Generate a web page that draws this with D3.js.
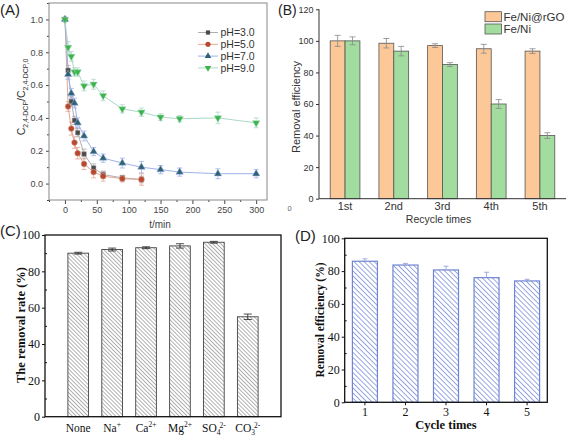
<!DOCTYPE html>
<html><head><meta charset="utf-8">
<script src="https://cdn.jsdelivr.net/npm/d3@7"></script>
<style>body{margin:0;background:#fff}svg{display:block}</style></head>
<body><svg id="c" width="567" height="436"></svg>
<script>
// ---------- Panel A data ----------
const timeA = [0,5,10,15,20,30,45,60,90,120,150,180,240,300];
const ph3 = [1.0,0.69,0.50,0.385,0.31,0.18,0.095,0.055,0.035,0.025];
const ph3Err = [0,0.03,0.03,0.025,0.025,0.03,0.025,0.02,0.015,0.02];
const ph5 = [1.0,0.47,0.335,0.25,0.185,0.12,0.07,0.045,0.03,0.025];
const ph5Err = [0,0.03,0.04,0.035,0.035,0.035,0.035,0.03,0.02,0.035];
const ph7 = [1.0,0.665,0.55,0.49,0.37,0.29,0.195,0.155,0.125,0.10,0.085,0.07,0.06,0.06];
const ph7Err = [0,0.03,0.03,0.03,0.03,0.03,0.025,0.025,0.03,0.035,0.025,0.025,0.03,0.025];
const ph9 = [1.0,0.83,0.775,0.68,0.68,0.595,0.605,0.535,0.455,0.435,0.405,0.395,0.40,0.37];
const ph9Err = [0,0.035,0.03,0.025,0.025,0.03,0.03,0.03,0.025,0.025,0.02,0.02,0.035,0.03];
const seriesA = ["pH=3.0","pH=5.0","pH=7.0","pH=9.0"];
const xTicksA = [0,50,100,150,200,250,300];
const yTicksA = [0,0.2,0.4,0.6,0.8,1.0];

// ---------- Panel B data ----------
const catsB = ["1st","2nd","3rd","4th","5th"];
const seriesB = ["Fe/Ni@rGO","Fe/Ni"];
const rgoB = [100,98.5,97,95,93.5];
const rgoErrB = [3.5,3,1.2,2.8,1.5];
const feniB = [100,93.5,85,60,40];
const feniErrB = [2.5,3,1.2,2.8,1.8];
const yTicksB = [0,20,40,60,80,100,120];

// ---------- Panel C data ----------
const catsC = ["None","Na","Ca","Mg","SO4","CO3"];
const valC = [90,92,93,94,96,55];
const errC = [0.5,0.8,0.5,1.2,0.5,1.5];
const yTicksC = [0,20,40,60,80,100];

// ---------- Panel D data ----------
const catsD = ["1","2","3","4","5"];
const valD = [86,83.7,80.7,76,74];
const errD = [1.5,1,2.3,3.3,1];
const yTicksD = [0,20,40,60,80,100];

const svg = d3.select("#c");
const SANS = "'Liberation Sans', Arial, sans-serif";
const SERIF = "'Liberation Serif', 'Times New Roman', serif";

// patterns
const defs = svg.append("defs");
const pC = defs.append("pattern").attr("id","hatchC").attr("patternUnits","userSpaceOnUse")
  .attr("width",2.8).attr("height",2.8).attr("patternTransform","rotate(-45)");
pC.append("rect").attr("width",2.8).attr("height",2.8).attr("fill","#fff");
pC.append("line").attr("x1",0).attr("y1",0).attr("x2",0).attr("y2",2.8).attr("stroke","#666").attr("stroke-width",1.0);
const pD = defs.append("pattern").attr("id","hatchD").attr("patternUnits","userSpaceOnUse")
  .attr("width",3.6).attr("height",3.6).attr("patternTransform","rotate(-45)");
pD.append("rect").attr("width",3.6).attr("height",3.6).attr("fill","#fff");
pD.append("line").attr("x1",0).attr("y1",0).attr("x2",0).attr("y2",3.6).attr("stroke","#6f84d4").attr("stroke-width",1.4);

function styleAxis(g, font, size, color){
  g.selectAll("text").attr("font-family",font).attr("font-size",size).attr("fill",color);
  g.selectAll("line").attr("stroke",color);
  g.select(".domain").remove();
}

// ================= Panel A =================
{
  const xA = d3.scaleLinear().domain([-25,317]).range([49,267]);
  const yA = d3.scaleLinear().domain([-0.1,1.1]).range([200,3]);
  const gA = svg.append("g");
  const gx = gA.append("g").attr("transform","translate(0,200)")
    .call(d3.axisBottom(xA).tickValues(xTicksA).tickSize(4).tickPadding(3).tickFormat(d3.format("d")));
  styleAxis(gx, SANS, 9, "#444");
  gA.append("g").attr("transform","translate(0,200)")
    .call(d3.axisBottom(xA).tickValues(d3.range(-25,317,25).filter(v=>v%50!==0)).tickSize(2).tickFormat(""))
    .call(g=>{g.select(".domain").remove(); g.selectAll("line").attr("stroke","#444");});
  const gy = gA.append("g").attr("transform","translate(49,0)")
    .call(d3.axisLeft(yA).tickValues(yTicksA).tickSize(3).tickPadding(3).tickFormat(d3.format(".1f")));
  styleAxis(gy, SANS, 9, "#444");
  gA.append("g").attr("transform","translate(49,0)")
    .call(d3.axisLeft(yA).tickValues([-0.1,0.1,0.3,0.5,0.7,0.9,1.1]).tickSize(2).tickFormat(""))
    .call(g=>{g.select(".domain").remove(); g.selectAll("line").attr("stroke","#444");});
  gA.append("rect").attr("x",49).attr("y",3).attr("width",218).attr("height",197)
    .attr("fill","none").attr("stroke","#888").attr("stroke-width",1);

  const sets = [
    {name:seriesA[0], v:ph3, e:ph3Err, line:"#b0b0b0", mk:"#4a4a4a", shape:d3.symbolSquare, size:22, rot:0},
    {name:seriesA[1], v:ph5, e:ph5Err, line:"#e3a596", mk:"#b5482e", shape:d3.symbolCircle, size:26, rot:0},
    {name:seriesA[2], v:ph7, e:ph7Err, line:"#9fb3ea", mk:"#2f6272", shape:d3.symbolTriangle, size:24, rot:0},
    {name:seriesA[3], v:ph9, e:ph9Err, line:"#abd8c6", mk:"#3bb54a", shape:d3.symbolTriangle, size:24, rot:180}
  ];
  const line = d3.line().x((d,i)=>xA(timeA[i])).y(d=>yA(d));
  sets.forEach(s=>{
    gA.append("path").datum(s.v).attr("d",line).attr("fill","none").attr("stroke",s.line).attr("stroke-width",1);
    s.v.forEach((d,i)=>{
      if(!s.e[i]) return;
      const x = xA(timeA[i]);
      gA.append("path").attr("d",`M${x},${yA(d-s.e[i])}V${yA(d+s.e[i])}M${x-2.5},${yA(d-s.e[i])}H${x+2.5}M${x-2.5},${yA(d+s.e[i])}H${x+2.5}`)
        .attr("stroke",s.line).attr("stroke-width",0.8).attr("fill","none");
    });
  });
  sets.forEach(s=>{
    gA.selectAll(null).data(s.v).enter().append("path")
      .attr("d",d3.symbol().type(s.shape).size(s.size))
      .attr("transform",(d,i)=>`translate(${xA(timeA[i])},${yA(d)}) rotate(${s.rot})`)
      .attr("fill",s.mk).attr("stroke",s.line).attr("stroke-width",0.5);
  });
  sets.forEach((s,i)=>{
    const y = 32.5 + i*11.8;
    gA.append("line").attr("x1",198).attr("x2",218).attr("y1",y).attr("y2",y).attr("stroke",s.line).attr("stroke-width",1);
    gA.append("path").attr("d",d3.symbol().type(s.shape).size(s.size*0.8))
      .attr("transform",`translate(208,${y}) rotate(${s.rot})`).attr("fill",s.mk);
    gA.append("text").attr("x",220.5).attr("y",y+3.8).text(s.name)
      .attr("font-family",SANS).attr("font-size",10.5).attr("fill","#333");
  });
  const yl = gA.append("text").attr("transform","translate(25,97) rotate(-90)").attr("text-anchor","middle")
    .attr("font-family",SANS).attr("font-size",10.5).attr("fill","#333");
  yl.append("tspan").text("C");
  yl.append("tspan").text("2,4-DCP").attr("font-size",7).attr("dy",2.5);
  yl.append("tspan").text("/C").attr("dy",-2.5);
  yl.append("tspan").text("2,4-DCP,0").attr("font-size",7).attr("dy",2.5);
  svg.append("text").attr("x",160).attr("y",228).attr("text-anchor","middle").text("t/min")
    .attr("font-family",SANS).attr("font-size",10).attr("fill","#444");
  svg.append("text").attr("x",0).attr("y",15).text("(A)").attr("font-family",SANS).attr("font-size",15).attr("fill","#222");
  svg.append("text").attr("x",289.5).attr("y",211).attr("text-anchor","middle").text("0")
    .attr("font-family",SANS).attr("font-size",7.5).attr("fill","#666");
}

// ================= Panel B =================
{
  const xB = d3.scaleBand().domain(catsB).range([319,566]).paddingInner(0.39).paddingOuter(0.23);
  const xs = d3.scaleBand().domain(seriesB).range([0,xB.bandwidth()]);
  const yB = d3.scaleLinear().domain([0,120]).range([198.7,9.3]);
  const gB = svg.append("g");
  const colors = {"Fe/Ni@rGO":"#fdc898","Fe/Ni":"#a3dc9f"};
  const data = [rgoB, feniB], errs = [rgoErrB, feniErrB];
  seriesB.forEach((s,si)=>{
    catsB.forEach((c,ci)=>{
      const x = xB(c)+xs(s), v = data[si][ci], e = errs[si][ci], w = xs.bandwidth();
      gB.append("rect").attr("x",x).attr("y",yB(v)).attr("width",w).attr("height",yB(0)-yB(v))
        .attr("fill",colors[s]).attr("stroke","#555").attr("stroke-width",0.8);
      const cx = x+w/2;
      gB.append("path").attr("d",`M${cx},${yB(v-e)}V${yB(v+e)}M${cx-3},${yB(v-e)}H${cx+3}M${cx-3},${yB(v+e)}H${cx+3}`)
        .attr("stroke","#888").attr("stroke-width",0.8).attr("fill","none");
    });
  });
  const gy = gB.append("g").attr("transform","translate(319,0)")
    .call(d3.axisLeft(yB).tickValues(yTicksB).tickSize(3).tickPadding(2.5));
  styleAxis(gy, SANS, 9, "#333");
  gB.append("line").attr("x1",319).attr("x2",319).attr("y1",9.3).attr("y2",198.7).attr("stroke","#333");
  gB.append("line").attr("x1",319).attr("x2",566).attr("y1",198.7).attr("y2",198.7).attr("stroke","#333");
  const gx = gB.append("g").attr("transform","translate(0,198.7)")
    .call(d3.axisBottom(xB).tickSize(0).tickPadding(4));
  styleAxis(gx, SANS, 11, "#333");
  seriesB.forEach((s,i)=>{
    const y = 11.7 + i*12.3;
    gB.append("rect").attr("x",485).attr("y",y).attr("width",16.5).attr("height",10)
      .attr("fill",colors[s]).attr("stroke","#555").attr("stroke-width",0.8);
    gB.append("text").attr("x",503.5).attr("y",y+9).text(s).attr("font-family",SANS).attr("font-size",11.5).attr("fill","#333");
  });
  gB.append("text").attr("transform","translate(300,107) rotate(-90)").attr("text-anchor","middle")
    .text("Removal efficiency").attr("font-family",SANS).attr("font-size",11).attr("fill","#333");
  svg.append("text").attr("x",438.5).attr("y",223).attr("text-anchor","middle").text("Recycle times")
    .attr("font-family",SANS).attr("font-size",10.5).attr("fill","#333");
  svg.append("text").attr("x",278).attr("y",15).text("(B)").attr("font-family",SANS).attr("font-size",14).attr("fill","#222");
}

// ================= Panel C =================
{
  const xC = d3.scaleBand().domain(catsC).range([45,281]).paddingInner(0.39).paddingOuter(0.675);
  const yC = d3.scaleLinear().domain([0,100]).range([416.7,235]);
  const gC = svg.append("g");
  catsC.forEach((c,i)=>{
    const x = xC(c), w = xC.bandwidth(), v = valC[i], e = errC[i];
    gC.append("rect").attr("x",x).attr("y",yC(v)).attr("width",w).attr("height",yC(0)-yC(v))
      .attr("fill","url(#hatchC)").attr("stroke","#444").attr("stroke-width",0.9);
    const cx = x+w/2;
    gC.append("path").attr("d",`M${cx},${yC(v-e)}V${yC(v+e)}M${cx-4},${yC(v-e)}H${cx+4}M${cx-4},${yC(v+e)}H${cx+4}`)
      .attr("stroke","#222").attr("stroke-width",0.8).attr("fill","none");
  });
  const gy = gC.append("g").attr("transform","translate(45,0)")
    .call(d3.axisLeft(yC).tickValues(yTicksC).tickSize(3).tickPadding(2));
  styleAxis(gy, SERIF, 12, "#111");
  gC.append("g").attr("transform","translate(45,0)")
    .call(d3.axisRight(yC).tickValues([10,30,50,70,90]).tickSize(2).tickFormat(""))
    .call(g=>{g.select(".domain").remove(); g.selectAll("line").attr("stroke","#111");});
  gC.append("rect").attr("x",45).attr("y",235).attr("width",236).attr("height",181.7)
    .attr("fill","none").attr("stroke","#111").attr("stroke-width",1.3);
  const labs = [["None"],["Na",null,"+"],["Ca",null,"2+"],["Mg",null,"2+"],["SO","4","2-"],["CO","3","2-"]];
  labs.forEach((l,i)=>{
    const cx = xC(catsC[i]) + xC.bandwidth()/2;
    const t = gC.append("text").attr("x",cx).attr("y",432).attr("text-anchor","middle")
      .attr("font-family",SERIF).attr("font-size",11.5).attr("fill","#111");
    t.append("tspan").text(l[0]);
    if(l[1]) {
      t.append("tspan").text(l[1]).attr("font-size",7.5).attr("dy",2.5);
      t.append("tspan").text(l[2]).attr("font-size",7.5).attr("dy",-7).attr("dx",-1);
    } else if(l[2]) {
      t.append("tspan").text(l[2]).attr("font-size",7.5).attr("dy",-5);
    }
  });
  gC.append("text").attr("transform","translate(25,325) rotate(-90)").attr("text-anchor","middle")
    .text("The removal rate (%)").attr("font-family",SERIF).attr("font-weight","bold").attr("font-size",12.5).attr("fill","#111");
  svg.append("text").attr("x",0).attr("y",236).text("(C)").attr("font-family",SANS).attr("font-size",15).attr("fill","#222");
}

// ================= Panel D =================
{
  const xD = d3.scaleBand().domain(catsD).range([344.7,547.3]).paddingInner(0.383).paddingOuter(0.19);
  const yD = d3.scaleLinear().domain([0,100]).range([402.3,238.3]);
  const gD = svg.append("g");
  catsD.forEach((c,i)=>{
    const x = xD(c), w = xD.bandwidth(), v = valD[i], e = errD[i];
    gD.append("rect").attr("x",x).attr("y",yD(v)).attr("width",w).attr("height",yD(0)-yD(v))
      .attr("fill","url(#hatchD)").attr("stroke","#6f84d4").attr("stroke-width",1.2);
    const cx = x+w/2;
    gD.append("path").attr("d",`M${cx},${yD(v)}V${yD(v+e)}M${cx-2.5},${yD(v+e)}H${cx+2.5}`)
      .attr("stroke","#8a9ad8").attr("stroke-width",0.8).attr("fill","none");
  });
  const gy = gD.append("g").attr("transform","translate(344.7,0)")
    .call(d3.axisLeft(yD).tickValues(yTicksD).tickSize(3).tickPadding(2));
  styleAxis(gy, SERIF, 12, "#111");
  gD.append("g").attr("transform","translate(344.7,0)")
    .call(d3.axisRight(yD).tickValues([10,30,50,70,90]).tickSize(2).tickFormat(""))
    .call(g=>{g.select(".domain").remove(); g.selectAll("line").attr("stroke","#111");});
  const gx = gD.append("g").attr("transform","translate(0,402.3)")
    .call(d3.axisBottom(xD).tickSize(3).tickPadding(2));
  styleAxis(gx, SERIF, 12, "#111");
  gD.append("rect").attr("x",344.7).attr("y",238.3).attr("width",202.6).attr("height",164)
    .attr("fill","none").attr("stroke","#111").attr("stroke-width",1.3);
  gD.append("text").attr("x",446).attr("y",428.5).attr("text-anchor","middle").text("Cycle times")
    .attr("font-family",SERIF).attr("font-weight","bold").attr("font-size",12.5).attr("fill","#111");
  gD.append("text").attr("transform","translate(324,320) rotate(-90)").attr("text-anchor","middle")
    .text("Removal efficiency (%)").attr("font-family",SERIF).attr("font-weight","bold").attr("font-size",11.5).attr("fill","#111");
  svg.append("text").attr("x",295).attr("y",241).text("(D)").attr("font-family",SANS).attr("font-size",15).attr("fill","#222");
}
</script></body></html>
